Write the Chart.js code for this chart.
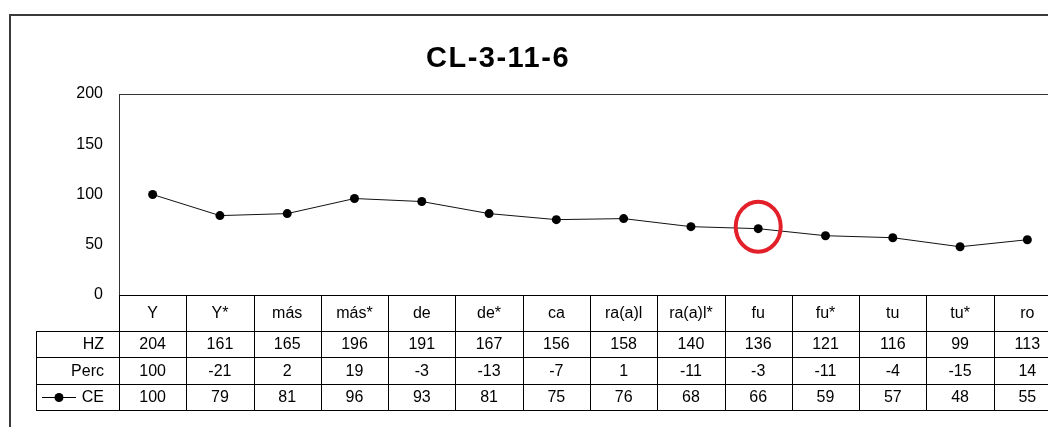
<!DOCTYPE html>
<html>
<head>
<meta charset="utf-8">
<script src="https://cdn.jsdelivr.net/npm/chart.js@4.4.1/dist/chart.umd.min.js"></script>
<style>
  html, body { margin: 0; padding: 0; background: #fff; overflow: hidden; }
  #wrap { width: 1048px; height: 427px; overflow: hidden; position: relative; }
  canvas { display: block; position: absolute; left: 0; top: 0; }
</style>
</head>
<body>
<div id="wrap"><canvas id="c" width="1080" height="427"></canvas></div>
<script>
// Chart title and series
const chartTitle = 'CL-3-11-6';
const categories = ['Y', 'Y*', 'más', 'más*', 'de', 'de*', 'ca', 'ra(a)l', 'ra(a)l*', 'fu', 'fu*', 'tu', 'tu*', 'ro'];
const hzValues = [204, 161, 165, 196, 191, 167, 156, 158, 140, 136, 121, 116, 99, 113];
const percValues = [100, -21, 2, 19, -3, -13, -7, 1, -11, -3, -11, -4, -15, 14];
const ceValues = [100, 79, 81, 96, 93, 81, 75, 76, 68, 66, 59, 57, 48, 55];
const yMin = 0, yMax = 200, yStep = 50;
// the highlighted point (ringed in red)
const highlightCategory = 'fu';

const FONT = '"Liberation Sans", Arial, sans-serif';
const W = 1080, H = 427;

// Excel-style frame, title, data table and highlight ring
const tablePlugin = {
  id: 'dataTable',
  afterDraw(chart) {
    const ctx = chart.ctx;
    const area = chart.chartArea;
    const x = chart.scales.x;
    const y = chart.scales.y;
    ctx.save();

    // outer chart border
    ctx.fillStyle = '#3a3a3a';
    ctx.fillRect(9, 14, W, 2);
    ctx.fillRect(9, 14, 2, H);

    // title
    ctx.fillStyle = '#000';
    ctx.font = 'bold 29px ' + FONT;
    ctx.letterSpacing = '1.5px';
    ctx.textAlign = 'center';
    ctx.textBaseline = 'middle';
    ctx.fillText(chartTitle, 498, 59);
    ctx.letterSpacing = '0px';

    // plot frame (top and left)
    ctx.fillStyle = '#333';
    ctx.fillRect(area.left, area.top, W, 1);
    ctx.fillRect(area.left, area.top, 1, area.bottom - area.top);

    // table geometry
    const colW = x.getPixelForValue(1) - x.getPixelForValue(0);
    const rows = [area.bottom, area.bottom + 36, area.bottom + 62, area.bottom + 89, area.bottom + 115];
    const labelLeft = 36;
    const rightEdge = area.left + colW * categories.length;

    ctx.fillStyle = '#000';
    // horizontal rules
    ctx.fillRect(area.left, rows[0], rightEdge - area.left + 1, 1);
    for (let r = 1; r < rows.length; r++) {
      ctx.fillRect(labelLeft, rows[r], rightEdge - labelLeft + 1, 1);
    }
    // vertical rules
    ctx.fillRect(labelLeft, rows[1], 1, rows[4] - rows[1] + 1);
    for (let i = 0; i <= categories.length; i++) {
      const bx = Math.round(area.left + colW * i);
      ctx.fillRect(bx, rows[0], 1, rows[4] - rows[0] + 1);
    }

    // cell text
    ctx.font = '16px ' + FONT;
    ctx.textBaseline = 'middle';
    ctx.textAlign = 'center';
    const rowData = [categories, hzValues, percValues, ceValues];
    for (let r = 0; r < rowData.length; r++) {
      const cy = (rows[r] + rows[r + 1]) / 2 + 1;
      rowData[r].forEach((v, i) => {
        ctx.fillText(String(v), x.getPixelForValue(i), cy);
      });
    }

    // row labels
    ctx.textAlign = 'right';
    const labelX = area.left - 15;
    ctx.fillText('HZ', labelX, (rows[1] + rows[2]) / 2 + 1);
    ctx.fillText('Perc', labelX, (rows[2] + rows[3]) / 2 + 1);
    const ceY = (rows[3] + rows[4]) / 2 + 1;
    ctx.fillText('CE', labelX, ceY);

    // legend key for CE
    ctx.strokeStyle = '#000';
    ctx.lineWidth = 1;
    ctx.beginPath();
    ctx.moveTo(42, Math.round(ceY) - 0.5);
    ctx.lineTo(76, Math.round(ceY) - 0.5);
    ctx.stroke();
    ctx.beginPath();
    ctx.arc(59, ceY - 0.5, 4.5, 0, Math.PI * 2);
    ctx.fill();

    // highlight ring
    const hi = categories.indexOf(highlightCategory);
    const px = x.getPixelForValue(hi);
    const py = y.getPixelForValue(ceValues[hi]);
    ctx.strokeStyle = '#e3202a';
    ctx.lineWidth = 4;
    ctx.beginPath();
    ctx.ellipse(px, py - 2, 22.5, 25, 0, 0, Math.PI * 2);
    ctx.stroke();

    ctx.restore();
  }
};

new Chart(document.getElementById('c'), {
  type: 'line',
  data: {
    labels: categories,
    datasets: [{
      label: 'CE',
      data: ceValues,
      borderColor: '#111',
      borderWidth: 1,
      backgroundColor: '#000',
      pointBackgroundColor: '#000',
      pointBorderColor: '#000',
      pointRadius: 4.5,
      pointBorderWidth: 0,
      tension: 0,
      fill: false
    }]
  },
  options: {
    responsive: false,
    animation: false,
    devicePixelRatio: 1,
    layout: {
      autoPadding: false,
      padding: { left: 0, top: 94, right: W - 1061, bottom: H - 295 }
    },
    plugins: {
      legend: { display: false },
      title: { display: false },
      tooltip: { enabled: false }
    },
    scales: {
      x: {
        type: 'category',
        offset: true,
        display: false
      },
      y: {
        min: yMin,
        max: yMax,
        afterFit(scale) { scale.width = 119; },
        grid: { display: false, drawTicks: false },
        border: { display: false },
        ticks: {
          stepSize: yStep,
          padding: 16,
          color: '#000',
          font: { family: FONT, size: 16 }
        }
      }
    }
  },
  plugins: [tablePlugin]
});
</script>
</body>
</html>
